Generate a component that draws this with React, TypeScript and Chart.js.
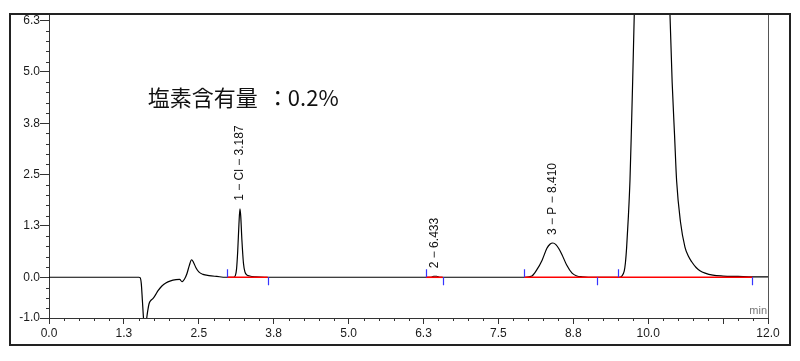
import { useEffect, useRef } from 'react';
import { Chart, registerables } from 'chart.js';

Chart.register(...registerables);

// Chromatogram trace (time in min, signal)
const traceTimes = [
  0, 1.5, 1.52, 1.54, 1.56, 1.58, 1.6, 1.62, 1.645, 1.67, 1.7, 1.73, 1.77, 1.82, 1.88, 1.95,
  2.03, 2.12, 2.18, 2.22, 2.26, 2.3, 2.34, 2.38, 2.41, 2.45, 2.5, 2.57, 2.67, 2.8, 2.95,
  3.08, 3.11, 3.13, 3.15, 3.17, 3.187, 3.2, 3.22, 3.245, 3.27, 3.3, 3.35, 3.45, 3.6,
  6.38, 6.42, 6.47, 6.52,
  7.95, 8.06, 8.14, 8.23, 8.31, 8.36, 8.41, 8.46, 8.51, 8.56, 8.64, 8.73, 8.81, 8.9, 9.0,
  9.52, 9.56, 9.6, 9.62, 9.641, 9.67, 9.696, 9.72, 9.741, 9.768, 9.82, 9.9, 10.0, 10.06,
  10.12, 10.2, 10.28, 10.33, 10.364, 10.4, 10.44, 10.475, 10.54, 10.614, 10.67, 10.726,
  10.8, 10.864, 10.95, 11.08, 11.25, 11.5, 11.75, 12,
];
const traceValues = [
  0, 0, -0.01, -0.15, -0.6, -1.05, -1.15, -1.1, -0.85, -0.65, -0.57, -0.53, -0.45, -0.33, -0.22, -0.14,
  -0.09, -0.06, -0.05, -0.11, -0.05, 0.08, 0.28, 0.43, 0.37, 0.24, 0.13, 0.07, 0.04, 0.02, 0,
  0, 0.04, 0.2, 0.65, 1.3, 1.68, 1.5, 0.9, 0.35, 0.13, 0.06, 0.03, 0.01, 0,
  0, 0.025, 0.025, 0,
  0, 0.03, 0.18, 0.42, 0.71, 0.81, 0.84, 0.8, 0.7, 0.56, 0.3, 0.1, 0.03, 0.01, 0,
  0, 0.03, 0.15, 0.35, 0.74, 1.5, 2.36, 3.6, 4.8, 6.45, 9.5, 14, 18, 19,
  18, 15, 11, 8.3, 6.45, 4.8, 3.5, 2.36, 1.35, 0.74, 0.52, 0.38,
  0.24, 0.16, 0.1, 0.05, 0.03, 0.02, 0.01, 0.01,
];

// Axis ticks
const xMajorTicks = [0, 1.25, 2.5, 3.75, 5, 6.25, 7.5, 8.75, 10, 11.25, 12];
const xMajorLabels = ['0.0', '1.3', '2.5', '3.8', '5.0', '6.3', '7.5', '8.8', '10.0', '', '12.0'];
const yMajorTicks = [-1, 0, 1.26, 2.52, 3.78, 5.04, 6.3];
const yMajorLabels = ['-1.0', '0.0', '1.3', '2.5', '3.8', '5.0', '6.3'];
const xMinorStep = 0.25;
const yMinorStep = 0.252;

// Peaks
const peakNames = ['1 − Cl − 3.187', '2 − 6.433', '3 − P − 8.410'];
const peakTimes = [3.187, 6.433, 8.41];
const peakHeights = [1.68, 0.025, 0.84];
const peakStarts = [2.976, 6.29, 7.93, 9.5];
const peakEnds = [3.65, 6.57, 9.14, 11.74];
const baselineStarts = [2.976, 6.29, 7.93];
const baselineEnds = [3.65, 6.57, 11.74];

const noteText = '塩素含有量';
const noteColon = '：';
const noteValue = '0.2%';
const noteTime = 1.65;
const noteLevel = 4.4;
const unitText = 'min';

const X_MIN = 0;
const X_MAX = 12;
const Y_MIN = -1;
const Y_MAX = 6.46;

export default function App() {
  const ref = useRef<HTMLCanvasElement | null>(null);

  useEffect(() => {
    if (!ref.current) return;

    const trace = traceTimes.map((t, i) => ({ x: t, y: traceValues[i] }));
    const baselineSets = baselineStarts.map((s, i) => ({
      data: [{ x: s, y: 0 }, { x: baselineEnds[i], y: 0 }],
      borderColor: '#ff0000',
      borderWidth: 1.6,
      pointRadius: 0,
      tension: 0,
    }));

    const decor = {
      id: 'decor',
      afterDraw(chart: any) {
        const ctx = chart.ctx;
        const xs = chart.scales.x;
        const ys = chart.scales.y;
        const area = chart.chartArea;
        ctx.save();

        // minor ticks
        ctx.strokeStyle = '#333';
        ctx.lineWidth = 1;
        ctx.beginPath();
        for (let v = X_MIN; v <= X_MAX + 1e-9; v += xMinorStep) {
          if (xMajorTicks.some((m) => Math.abs(m - v) < 1e-6)) continue;
          const px = Math.round(xs.getPixelForValue(v)) + 0.5;
          ctx.moveTo(px, area.bottom);
          ctx.lineTo(px, area.bottom + 3);
        }
        for (let v = 0; v <= 6.3 + 1e-9; v += yMinorStep) {
          if (yMajorTicks.some((m) => Math.abs(m - v) < 1e-3)) continue;
          const py = Math.round(ys.getPixelForValue(v)) + 0.5;
          ctx.moveTo(area.left - 3, py);
          ctx.lineTo(area.left, py);
        }
        for (let v = -yMinorStep; v > Y_MIN + 1e-6; v -= yMinorStep) {
          const py = Math.round(ys.getPixelForValue(v)) + 0.5;
          ctx.moveTo(area.left - 3, py);
          ctx.lineTo(area.left, py);
        }
        ctx.stroke();

        // right border of plot
        ctx.strokeStyle = '#555';
        ctx.beginPath();
        ctx.moveTo(Math.round(area.right) + 0.5, area.top);
        ctx.lineTo(Math.round(area.right) + 0.5, area.bottom);
        ctx.stroke();

        // peak start / end markers
        ctx.strokeStyle = '#3535ff';
        ctx.lineWidth = 1.2;
        const y0 = ys.getPixelForValue(0);
        ctx.beginPath();
        peakStarts.forEach((t) => {
          const px = Math.round(xs.getPixelForValue(t)) + 0.5;
          ctx.moveTo(px, y0);
          ctx.lineTo(px, y0 - 8);
        });
        peakEnds.forEach((t) => {
          const px = Math.round(xs.getPixelForValue(t)) + 0.5;
          ctx.moveTo(px, y0);
          ctx.lineTo(px, y0 + 8);
        });
        ctx.stroke();

        // peak labels
        ctx.fillStyle = '#111';
        ctx.font = '12px "Liberation Sans", Arial, sans-serif';
        ctx.textAlign = 'left';
        ctx.textBaseline = 'middle';
        peakNames.forEach((name, i) => {
          const px = xs.getPixelForValue(peakTimes[i]);
          const py = ys.getPixelForValue(peakHeights[i]) - 8;
          ctx.save();
          ctx.translate(px, py);
          ctx.rotate(-Math.PI / 2);
          ctx.fillText(name, 0, 0);
          ctx.restore();
        });

        // annotation
        const nx = xs.getPixelForValue(noteTime);
        const ny = ys.getPixelForValue(noteLevel);
        ctx.fillStyle = '#111';
        ctx.font = '22px "Noto Sans CJK JP", sans-serif';
        ctx.textBaseline = 'middle';
        ctx.textAlign = 'left';
        ctx.fillText(noteText, nx, ny);
        const w1 = ctx.measureText(noteText).width;
        ctx.textAlign = 'center';
        ctx.fillText(noteColon, nx + w1 + 20, ny);
        ctx.textAlign = 'left';
        ctx.fillText(noteValue, nx + w1 + 30, ny);

        // unit
        ctx.fillStyle = '#777';
        ctx.font = '11px "Liberation Sans", Arial, sans-serif';
        ctx.textAlign = 'right';
        ctx.textBaseline = 'middle';
        ctx.fillText(unitText, area.right - 1, area.bottom - 7);

        // outer frame
        ctx.strokeStyle = '#222';
        ctx.lineWidth = 2;
        ctx.strokeRect(10, 14, 780, 331);
        ctx.restore();
      },
    };

    const chart = new Chart(ref.current, {
      type: 'line',
      data: {
        datasets: [
          ...baselineSets,
          {
            data: trace,
            borderColor: '#000',
            borderWidth: 1.2,
            pointRadius: 0,
            cubicInterpolationMode: 'monotone',
          },
        ] as any,
      },
      options: {
        animation: false,
        responsive: false,
        events: [],
        layout: { padding: { left: 0, top: 14, right: 32, bottom: 0 } },
        plugins: { legend: { display: false }, tooltip: { enabled: false }, title: { display: false } },
        scales: {
          x: {
            type: 'linear',
            min: X_MIN,
            max: X_MAX,
            afterBuildTicks: (s: any) => {
              s.ticks = xMajorTicks.map((v) => ({ value: v }));
            },
            afterFit: (s: any) => {
              s.height = 43;
            },
            ticks: {
              autoSkip: false,
              maxRotation: 0,
              minRotation: 0,
              padding: 2,
              color: '#1a1a1a',
              font: { family: '"Liberation Sans", Arial, sans-serif', size: 12 },
              callback: (_v: any, i: number) => xMajorLabels[i],
            },
            grid: { drawOnChartArea: false, drawTicks: true, tickLength: 6, color: '#333' },
            border: { display: true, color: '#333' },
          },
          y: {
            type: 'linear',
            min: Y_MIN,
            max: Y_MAX,
            afterBuildTicks: (s: any) => {
              s.ticks = yMajorTicks.map((v) => ({ value: v }));
            },
            afterFit: (s: any) => {
              s.width = 49;
            },
            ticks: {
              autoSkip: false,
              padding: 0,
              color: '#1a1a1a',
              font: { family: '"Liberation Sans", Arial, sans-serif', size: 12 },
              callback: (_v: any, i: number) => yMajorLabels[i],
            },
            grid: { drawOnChartArea: false, drawTicks: true, tickLength: 9, color: '#333' },
            border: { display: true, color: '#333' },
          },
        },
      } as any,
      plugins: [decor],
    });

    return () => chart.destroy();
  }, []);

  return (
    <div style={{ position: 'absolute', left: 0, top: 0, width: 800, height: 361, background: '#fff' }}>
      <canvas ref={ref} width={800} height={361} style={{ display: 'block' }} />
    </div>
  );
}
